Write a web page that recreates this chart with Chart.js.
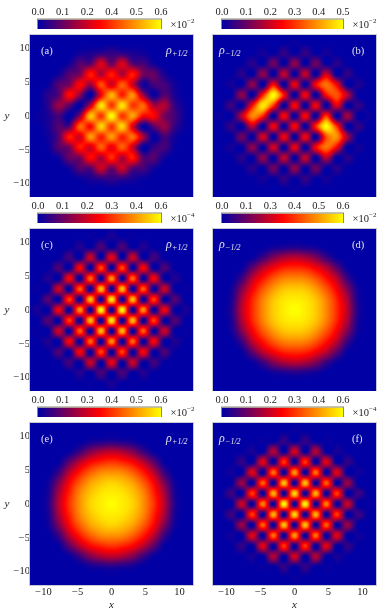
<!DOCTYPE html>
<html><head><meta charset="utf-8">
<script src="https://cdn.jsdelivr.net/npm/chart.js@4"></script>
<style>
html,body{margin:0;padding:0;background:#fff;width:390px;height:616px;overflow:hidden}
canvas{position:absolute;display:block}
</style></head><body>
<script>
const gridAxis=[-12.4,-10.85,-9.3,-7.75,-6.2,-4.65,-3.1,-1.55,0,1.55,3.1,4.65,6.2,7.75,9.3,10.85,12.4];
const axisTicks=[-10,-5,0,5,10];
const barPositions=[0,0.2,0.4,0.6,0.8,1];
const barLabelsA=['0.0','0.1','0.2','0.4','0.5','0.6'];
const barLabelsB=['0.0','0.1','0.2','0.3','0.4','0.5'];
const barLabelsC=['0.0','0.1','0.2','0.3','0.4','0.6'];
const barLabelsD=['0.0','0.1','0.3','0.4','0.5','0.6'];
const barLabelsE=['0.0','0.1','0.3','0.4','0.5','0.6'];
const barLabelsF=['0.0','0.1','0.2','0.3','0.4','0.6'];
const maxA=60,maxB=50,maxC=60,maxD=60,maxE=60,maxF=60;
const z=[0,0,0,0,0,0,0,0,0,0,0,0,0,0,0,0,0];
const rhoA=[z,z,
[0,0,0,0,0,2,3,5,6,5,3,2,0,0,0,0,0],
[0,0,0,0,2,10,10,26,12,26,10,8,2,0,0,0,0],
[0,0,0,2,10,14,33,20,33,20,33,14,12,3,0,0,0],
[0,0,1,10,14,30,18,39,24,41,24,2,8,8,2,0,0],
[0,0,5,10,31,16,0,28,51,33,47,18,1,10,3,0,0],
[0,0,5,18,10,0,22,57,36,57,36,42,20,21,6,1,0],
[0,1,3,8,0,16,53,36,60,36,49,30,30,14,8,1,0],
[0,0,3,10,10,42,30,55,36,55,26,0,10,18,6,1,0],
[0,0,2,10,33,24,48,33,48,33,43,20,0,8,2,0,0],
[0,0,1,10,14,33,24,41,27,41,24,0,6,8,1,0,0],
[0,0,0,2,12,14,31,20,35,20,33,10,10,2,0,0,0],
[0,0,0,0,2,10,10,24,12,24,10,8,2,0,0,0,0],
[0,0,0,0,0,1,3,5,6,5,3,1,0,0,0,0,0],
z,z];
const rhoB=[z,
[0,0,0,0,0,0,0,0,1,0,0,0,0,0,0,0,0],
[0,0,0,0,0,2,0,5,0,5,0,2,0,0,0,0,0],
[0,0,0,0,4,0,11,0,14,0,11,0,4,0,0,0,0],
[0,0,0,4,0,14,0,19,0,19,0,20,0,5,0,0,0],
[0,0,2,0,14,0,25,0,23,0,24,36,24,0,3,0,0],
[0,0,0,14,0,28,50,26,0,24,0,25,33,18,0,0,0],
[0,0,6,0,26,48,30,0,25,0,24,0,22,0,5,0,0],
[0,1,0,18,38,28,0,25,0,25,0,30,0,16,0,1,0],
[0,0,5,0,18,0,24,0,25,0,28,50,30,0,5,0,0],
[0,0,0,11,0,21,0,24,0,24,0,32,39,16,0,0,0],
[0,0,2,0,14,0,21,0,23,0,24,36,24,0,2,0,0],
[0,0,0,4,0,14,0,19,0,19,0,18,0,4,0,0,0],
[0,0,0,0,4,0,11,0,14,0,11,0,4,0,0,0,0],
[0,0,0,0,0,2,0,5,0,5,0,2,0,0,0,0,0],
[0,0,0,0,0,0,0,0,1,0,0,0,0,0,0,0,0],
z];
const rhoC=[z,
[0,0,0,0,0,0,1,0,3,0,1,0,0,0,0,0,0],
[0,0,0,0,0,4,0,9,0,9,0,4,0,0,0,0,0],
[0,0,0,0,8,0,24,0,28,0,24,0,8,0,0,0,0],
[0,0,0,9,0,30,0,38,0,38,0,30,0,9,0,0,0],
[0,0,4,0,30,0,42,0,47,0,42,0,30,0,4,0,0],
[0,1,0,24,0,41,0,52,0,52,0,41,0,24,0,1,0],
[0,0,10,0,37,0,52,0,58,0,52,0,37,0,10,0,0],
[0,3,0,29,0,47,0,60,0,60,0,47,0,29,0,3,0],
[0,0,10,0,37,0,52,0,58,0,52,0,37,0,10,0,0],
[0,1,0,24,0,41,0,52,0,52,0,41,0,24,0,1,0],
[0,0,4,0,30,0,42,0,47,0,42,0,30,0,4,0,0],
[0,0,0,9,0,30,0,38,0,38,0,30,0,9,0,0,0],
[0,0,0,0,8,0,24,0,28,0,24,0,8,0,0,0,0],
[0,0,0,0,0,4,0,9,0,9,0,4,0,0,0,0,0],
[0,0,0,0,0,0,1,0,3,0,1,0,0,0,0,0,0],
z];
const rhoD=[z,z,
[0,0,0,0,0,0,2,3,4,3,2,0,0,0,0,0,0],
[0,0,0,0,1,7,15,20,22,20,15,7,1,0,0,0,0],
[0,0,0,1,11,22,29,34,35,34,29,22,11,1,0,0,0],
[0,0,0,7,22,32,40,45,46,45,40,32,22,7,0,0,0],
[0,0,2,15,29,40,48,53,54,53,48,40,29,15,2,0,0],
[0,0,3,20,34,45,53,57,58,57,53,45,34,20,3,0,0],
[0,0,4,22,35,46,54,58,60,58,54,46,35,22,4,0,0],
[0,0,3,20,34,45,53,57,58,57,53,45,34,20,3,0,0],
[0,0,2,15,29,40,48,53,54,53,48,40,29,15,2,0,0],
[0,0,0,7,22,32,40,45,46,45,40,32,22,7,0,0,0],
[0,0,0,1,11,22,29,34,35,34,29,22,11,1,0,0,0],
[0,0,0,0,1,7,15,20,22,20,15,7,1,0,0,0,0],
[0,0,0,0,0,0,2,3,4,3,2,0,0,0,0,0,0],
z,z];
const rhoE=[z,z,
[0,0,0,0,0,0,2,3,4,3,2,0,0,0,0,0,0],
[0,0,0,0,1,7,15,20,22,20,15,7,1,0,0,0,0],
[0,0,0,1,11,22,30,34,36,34,30,22,11,1,0,0,0],
[0,0,0,7,22,33,41,46,47,46,41,33,22,7,0,0,0],
[0,0,2,15,30,41,49,53,55,53,49,41,30,15,2,0,0],
[0,0,3,20,34,46,53,57,58,57,53,46,34,20,3,0,0],
[0,0,4,22,36,47,55,58,60,58,55,47,36,22,4,0,0],
[0,0,3,20,34,46,53,57,58,57,53,46,34,20,3,0,0],
[0,0,2,15,30,41,49,53,55,53,49,41,30,15,2,0,0],
[0,0,0,7,22,33,41,46,47,46,41,33,22,7,0,0,0],
[0,0,0,1,11,22,30,34,36,34,30,22,11,1,0,0,0],
[0,0,0,0,1,7,15,20,22,20,15,7,1,0,0,0,0],
[0,0,0,0,0,0,2,3,4,3,2,0,0,0,0,0,0],
z,z];
const rhoF=[z,
[0,0,0,0,0,0,0,0,1,0,0,0,0,0,0,0,0],
[0,0,0,0,0,1,0,6,0,6,0,1,0,0,0,0,0],
[0,0,0,0,3,0,21,0,25,0,21,0,3,0,0,0,0],
[0,0,0,6,0,27,0,36,0,36,0,27,0,6,0,0,0],
[0,0,2,0,27,0,43,0,48,0,43,0,27,0,2,0,0],
[0,0,0,18,0,41,0,53,0,53,0,41,0,18,0,0,0],
[0,0,7,0,37,0,51,0,56,0,51,0,37,0,7,0,0],
[0,1,0,24,0,45,0,60,0,60,0,45,0,24,0,1,0],
[0,0,7,0,37,0,51,0,56,0,51,0,37,0,7,0,0],
[0,0,0,18,0,41,0,53,0,53,0,41,0,18,0,0,0],
[0,0,2,0,27,0,43,0,48,0,43,0,27,0,2,0,0],
[0,0,0,6,0,27,0,36,0,36,0,27,0,6,0,0,0],
[0,0,0,0,3,0,21,0,25,0,21,0,3,0,0,0,0],
[0,0,0,0,0,1,0,6,0,6,0,1,0,0,0,0,0],
[0,0,0,0,0,0,0,0,1,0,0,0,0,0,0,0,0],
z];

const C_LOW=[0,0,165],C_MID=[255,0,0],C_HIGH=[255,255,0];
const SERIF='"Liberation Serif"';
function ramp(t){
  t=Math.max(0,Math.min(1,t));
  const [a,b,u]=t<.5?[C_LOW,C_MID,t*2]:[C_MID,C_HIGH,t*2-1];
  return [0,1,2].map(k=>Math.round(a[k]+(b[k]-a[k])*u));
}
function cr(p0,p1,p2,p3,u){
  return .5*(2*p1+(p2-p0)*u+(2*p0-5*p1+4*p2-p3)*u*u+(3*p1-p0-3*p2+p3)*u*u*u);
}
function sample(g,x,y){
  const n=gridAxis.length,h=gridAxis[1]-gridAxis[0];
  const fx=(x-gridAxis[0])/h,fy=(gridAxis[n-1]-y)/h;
  const ix=Math.floor(fx),iy=Math.floor(fy),ux=fx-ix,uy=fy-iy;
  const at=(r,c)=>g[Math.max(0,Math.min(n-1,r))][Math.max(0,Math.min(n-1,c))];
  const rows=[];
  for(let r=-1;r<3;r++) rows.push(cr(at(iy+r,ix-1),at(iy+r,ix),at(iy+r,ix+1),at(iy+r,ix+2),ux));
  return cr(rows[0],rows[1],rows[2],rows[3],uy);
}
const noPad=s=>{s.paddingTop=0;s.paddingBottom=0;s.paddingLeft=0;s.paddingRight=0;};
const field={id:'field',
  afterDatasetsDraw(chart,_,o){
    const a=chart.chartArea,sx=chart.scales.x,sy=chart.scales.y;
    const w=Math.round(a.right-a.left),h=Math.round(a.bottom-a.top);
    const off=document.createElement('canvas');off.width=w;off.height=h;
    const c2=off.getContext('2d'),img=c2.createImageData(w,h);
    for(let py=0;py<h;py++)for(let px=0;px<w;px++){
      const v=sample(o.grid,sx.getValueForPixel(a.left+px+.5),sy.getValueForPixel(a.top+py+.5));
      const col=ramp(v/o.max),i=(py*w+px)*4;
      img.data[i]=col[0];img.data[i+1]=col[1];img.data[i+2]=col[2];img.data[i+3]=255;
    }
    c2.putImageData(img,0,0);
    const c=chart.ctx;
    c.drawImage(off,a.left,a.top);
    c.strokeStyle='#c8c8d0';c.lineWidth=1;
    c.strokeRect(a.left-.5,a.top-.5,w+1,h+1);
    c.fillStyle='#e4e4ec';c.textBaseline='middle';c.textAlign='left';
    c.font='10.5px '+SERIF;
    c.fillText(o.tag,o.right?a.right-24:a.left+11,a.top+16.5);
    const rx=o.right?a.left+6:a.right-27;
    c.font='italic 12px '+SERIF;
    c.fillText('ρ',rx,a.top+16);
    c.font='italic 8px '+SERIF;
    c.fillText(o.sub,rx+6,a.top+19);
    if(!o.right){
      c.fillStyle='#222';c.textAlign='center';
      c.font='italic 11px '+SERIF;
      c.fillText('y',7,(a.top+a.bottom)/2);
    }
  }
};
function panel(left,top,width,height,g,max,tag,sub,right,bottom){
  const cv=document.createElement('canvas');
  cv.width=width;cv.height=height;
  cv.style.left=left+'px';cv.style.top=top+'px';cv.style.width=width+'px';cv.style.height=height+'px';
  document.body.appendChild(cv);
  const pts=[];
  g.forEach((row,r)=>row.forEach((v,c)=>pts.push({x:gridAxis[c],y:gridAxis[16-r],v})));
  new Chart(cv,{type:'scatter',plugins:[field],
    data:{datasets:[{data:pts,pointStyle:'rect',pointRadius:5.3,borderWidth:0,
      backgroundColor:ctx=>{const p=ctx.raw;if(!p)return'#000';const q=ramp(p.v/max);return `rgb(${q})`;}}]},
    options:{responsive:false,animation:false,
      layout:{autoPadding:false,padding:{left:right?17:0,right:right?14:3,top:2,bottom:0}},
      plugins:{legend:{display:false},tooltip:{enabled:false},
        field:{grid:g,max,tag,sub,right}},
      scales:{
        x:{type:'linear',min:-12,max:12,
          afterBuildTicks:s=>{s.ticks=axisTicks.map(v=>({value:v}));},
          grid:{display:false,drawTicks:false},border:{display:false},
          title:{display:bottom,text:'x',color:'#222',padding:0,font:{family:'Liberation Serif',style:'italic',size:11}},
          afterFit:s=>{s.height=bottom?(height-2-162):0;noPad(s);},
          ticks:{display:bottom,padding:1,maxRotation:0,autoSkip:false,color:'#222',
            font:{family:'Liberation Serif',size:10.5},
            callback:v=>String(v).replace('-','\u2212')}},
        y:{type:'linear',min:-12,max:12,display:!right,
          afterBuildTicks:s=>{s.ticks=axisTicks.map(v=>({value:v}));},
          grid:{display:false,drawTicks:false},border:{display:false},
          afterFit:s=>{s.width=right?0:30;noPad(s);},
          ticks:{padding:0,autoSkip:false,color:'#222',
            font:{family:'Liberation Serif',size:10.5},
            callback:v=>String(v).replace('-','\u2212')}}
      }}});
}
const barStops={id:'barStops',
  afterDraw(chart,_,o){
    const a=chart.chartArea,c=chart.ctx;
    c.strokeStyle='#8a8a70';c.lineWidth=1;
    c.strokeRect(a.left-.5,a.top-.5,a.right-a.left+1,a.bottom-a.top+1);
    c.fillStyle='#222';c.textAlign='left';c.textBaseline='middle';
    c.font='10.5px '+SERIF;
    c.fillText('×10',a.right+9.5,a.top+5.5);
    c.font='7px '+SERIF;
    c.fillText('\u2212'+o.exp,a.right+26,a.top+1.5);
  }
};
function colorbar(left,top,labels,exp){
  const width=left?194:196,height=25;
  const cv=document.createElement('canvas');
  cv.width=width;cv.height=height;
  cv.style.left=left+'px';cv.style.top=top+'px';cv.style.width=width+'px';cv.style.height=height+'px';
  document.body.appendChild(cv);
  const ch=new Chart(cv,{type:'bar',plugins:[barStops],
    data:{labels:[''],datasets:[{data:[[0,1]],barPercentage:1,categoryPercentage:1,borderWidth:0,
      backgroundColor:ctx=>{
        const s=ctx.chart.scales.x;
        const p0=s?s.getPixelForValue(0):NaN,p1=s?s.getPixelForValue(1):NaN;
        if(!isFinite(p0)||!isFinite(p1))return'#00f';
        const g=ctx.chart.ctx.createLinearGradient(p0,0,p1,0);
        g.addColorStop(0,`rgb(${C_LOW})`);g.addColorStop(.5,`rgb(${C_MID})`);g.addColorStop(1,`rgb(${C_HIGH})`);
        return g;}}]},
    options:{indexAxis:'y',responsive:false,animation:false,
      layout:{autoPadding:false,padding:{left:left?26:38,right:left?47:35,top:0,bottom:0}},
      plugins:{legend:{display:false},tooltip:{enabled:false},barStops:{exp}},
      scales:{
        x:{type:'linear',position:'top',min:0,max:1,
          afterBuildTicks:s=>{s.ticks=barPositions.map(v=>({value:v}));},
          afterFit:s=>{s.height=15.5;noPad(s);},
          grid:{display:false,drawTicks:false},border:{display:false},
          ticks:{padding:1,maxRotation:0,autoSkip:false,color:'#222',
            font:{family:'Liberation Serif',size:10.5},
            callback:(v,i)=>labels[i]}},
        y:{display:false}
      }}});
  ch.update();
}
panel(0,33,196,164,rhoA,maxA,'(a)','+1/2',false,false);
panel(196,33,194,164,rhoB,maxB,'(b)','\u22121/2',true,false);
panel(0,227,196,164,rhoC,maxC,'(c)','+1/2',false,false);
panel(196,227,194,164,rhoD,maxD,'(d)','\u22121/2',true,false);
panel(0,421,196,191,rhoE,maxE,'(e)','+1/2',false,true);
panel(196,421,194,191,rhoF,maxF,'(f)','\u22121/2',true,true);
colorbar(0,4,barLabelsA,2);
colorbar(196,4,barLabelsB,2);
colorbar(0,198,barLabelsC,4);
colorbar(196,198,barLabelsD,2);
colorbar(0,392,barLabelsE,2);
colorbar(196,392,barLabelsF,4);
</script>
</body></html>
